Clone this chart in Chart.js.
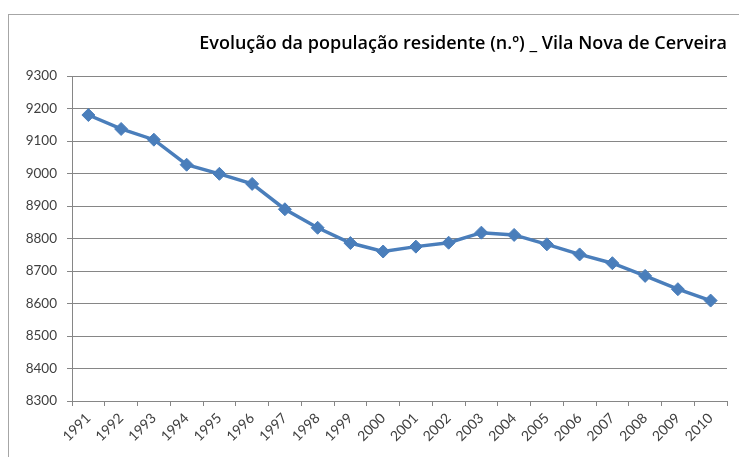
<!DOCTYPE html>
<html>
<head>
<meta charset="utf-8">
<script src="https://cdn.jsdelivr.net/npm/chart.js@4/dist/chart.umd.min.js"></script>
<style>
  html, body { margin: 0; padding: 0; background: #fff; overflow: hidden; }
  #frame { position: absolute; left: 8px; top: 14px; width: 760px; height: 470px; border: 1px solid #a6a6a6; box-sizing: border-box; }
  #wrap { position: absolute; left: 0; top: 0; width: 739px; height: 457px; }
</style>
</head>
<body>
<div id="frame"></div>
<div id="wrap"><canvas id="c" width="739" height="457"></canvas></div>
<script>
const years = ["1991","1992","1993","1994","1995","1996","1997","1998","1999","2000",
               "2001","2002","2003","2004","2005","2006","2007","2008","2009","2010"];
const population = [9180, 9137, 9104, 9027, 8999, 8968, 8890, 8833, 8786, 8760,
                    8775, 8787, 8818, 8811, 8782, 8751, 8724, 8685, 8644, 8609];
const yTicks = [8300, 8400, 8500, 8600, 8700, 8800, 8900, 9000, 9100, 9200, 9300];
const titleText = "Evolução da população residente (n.º) _ Vila Nova de Cerveira";

const yTickFont = { family: "Lato, 'Liberation Sans', Arial, sans-serif", size: 13.5 };
const xTickFont = { family: "Lato, 'Liberation Sans', Arial, sans-serif", size: 14 };

new Chart(document.getElementById('c'), {
  type: 'line',
  data: {
    labels: years,
    datasets: [{
      data: population,
      borderColor: '#4a7ebb',
      backgroundColor: '#4a7ebb',
      borderWidth: 3.5,
      pointStyle: 'rectRot',
      pointRadius: 6.5,
      pointHoverRadius: 6.5,
      pointBorderWidth: 1,
      pointBorderColor: '#4a7ebb',
      tension: 0,
      fill: false
    }]
  },
  options: {
    responsive: false,
    animation: false,
    layout: { padding: { left: 0, right: 12, top: 0, bottom: 0 } },
    plugins: {
      legend: { display: false },
      tooltip: { enabled: false },
      title: {
        display: true,
        text: titleText,
        align: 'end',
        color: '#000',
        font: { family: "'Open Sans', Lato, Arial, sans-serif", size: 18, weight: '600', lineHeight: 1.2 },
        padding: { top: 33, bottom: 21.4 }
      }
    },
    scales: {
      x: {
        offset: true,
        grid: { display: true, drawOnChartArea: false, offset: true, color: '#868686', tickLength: 5, tickColor: '#868686' },
        border: { display: true, color: '#868686', width: 1 },
        ticks: { color: '#404040', font: xTickFont, maxRotation: 45, minRotation: 45, autoSkip: false, padding: 4 },
        afterFit: (s) => { s.height = 56; }
      },
      y: {
        min: 8300, max: 9300,
        afterBuildTicks: (s) => { s.ticks = yTicks.map(v => ({ value: v })); },
        grid: { color: '#868686', lineWidth: 1, tickLength: 5, tickColor: '#868686' },
        border: { display: true, color: '#868686', width: 1 },
        ticks: { color: '#404040', font: yTickFont, padding: 10, callback: (v) => String(v) },
        afterFit: (s) => { s.width = 72; }
      }
    }
  }
});
</script>
</body>
</html>
